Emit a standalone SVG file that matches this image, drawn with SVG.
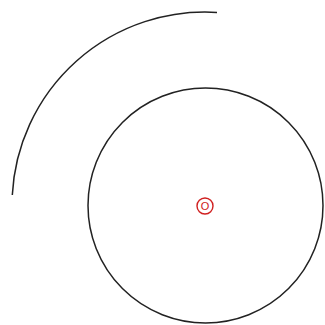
<svg xmlns="http://www.w3.org/2000/svg" width="325" height="325" viewBox="0 0 325 325">
<style>
.k{fill:none;stroke:#222;stroke-width:1.5}
.r{fill:none;stroke:#d02020;stroke-width:1.4}
.t{font-family:"Liberation Sans",Arial,sans-serif;font-size:11px;fill:#d02020}
</style>
<rect width="325" height="325" fill="#fff"/>
<path class="k" d="M12.3,195 A193,193 0 0 1 217,12.4"/>
<circle class="k" cx="205.5" cy="205.5" r="117.5"/>
<g id="center">
<circle class="r" cx="205" cy="206" r="8"/>
<text class="t" x="205" y="210" text-anchor="middle">O</text>
</g>
</svg>
